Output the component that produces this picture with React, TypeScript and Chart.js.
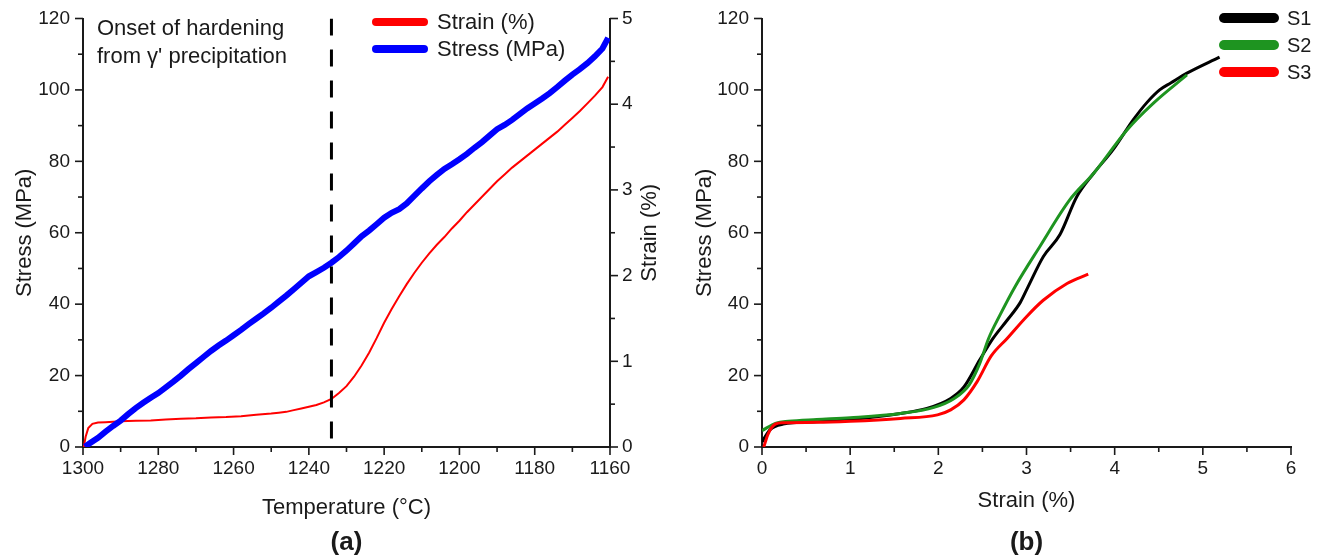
import { useEffect, useRef } from "react";
import { Chart, registerables } from "chart.js";

Chart.register(...registerables);

const FONT = "'Liberation Sans', Arial, Helvetica, sans-serif";
const INK = "#1a1a1a";

// ---- Panel (a): stress and strain during cooling ----
const stressTemps = [
  1299.5, 1298, 1296, 1294, 1292, 1290, 1288, 1286, 1284, 1282, 1280, 1278, 1276, 1274, 1272,
  1270, 1268, 1266, 1264, 1262, 1260, 1258, 1256, 1254, 1252, 1250, 1248, 1246, 1244, 1242,
  1240, 1238, 1236, 1234, 1232, 1230, 1228, 1226, 1224, 1222, 1220, 1218, 1216, 1214, 1212,
  1210, 1208, 1206, 1204, 1202, 1200, 1198, 1196, 1194, 1192, 1190, 1188, 1186, 1184, 1182,
  1180, 1178, 1176, 1174, 1172, 1170, 1168, 1166, 1164, 1162, 1160.5,
];
const stressValues = [
  0.1, 1.2, 2.6, 4.3, 5.9, 7.4, 9.2, 10.9, 12.4, 13.8, 15.1, 16.7, 18.3, 20.0, 21.8,
  23.5, 25.2, 26.9, 28.4, 29.8, 31.3, 32.8, 34.4, 35.9, 37.4, 39.0, 40.7, 42.4, 44.2, 46.0,
  47.8, 49.0, 50.2, 51.6, 53.2, 55.0, 57.0, 59.0, 60.6, 62.4, 64.2, 65.6, 66.6, 68.2, 70.3,
  72.4, 74.4, 76.2, 77.9, 79.2, 80.6, 82.1, 83.8, 85.4, 87.2, 89.0, 90.2, 91.6, 93.2, 94.8,
  96.2, 97.6, 99.1, 100.8, 102.6, 104.3, 105.8, 107.5, 109.4, 111.6, 114.6,
];
const strainTemps = [
  1299.8, 1299.3, 1298.6, 1297.5, 1296, 1294, 1292, 1290, 1286, 1282, 1278, 1274, 1270, 1266,
  1262, 1258, 1254, 1250, 1248, 1246, 1244, 1242, 1240, 1238, 1236, 1234, 1232, 1230, 1228,
  1226, 1224, 1222, 1220, 1218, 1216, 1214, 1212, 1210, 1208, 1206, 1204, 1202, 1200, 1198,
  1196, 1194, 1192, 1190, 1188, 1186, 1184, 1182, 1180, 1178, 1176, 1174, 1172, 1170, 1168,
  1166, 1164, 1162, 1160.5,
];
const strainValues = [
  0.0, 0.12, 0.22, 0.27, 0.285, 0.29, 0.295, 0.3, 0.305, 0.31, 0.32, 0.33, 0.335, 0.345,
  0.35, 0.36, 0.375, 0.39, 0.4, 0.41, 0.43, 0.45, 0.47, 0.49, 0.52, 0.56, 0.63, 0.71, 0.82,
  0.95, 1.1, 1.27, 1.45, 1.61, 1.76, 1.9, 2.03, 2.15, 2.26, 2.36, 2.45, 2.55, 2.64, 2.74,
  2.83, 2.92, 3.01, 3.1, 3.18, 3.26, 3.33, 3.4, 3.47, 3.54, 3.61, 3.68, 3.76, 3.84, 3.92,
  4.01, 4.1, 4.2, 4.32,
];
const onsetTemperature = 1234;
const tempRange = [1160, 1300];
const stressRange = [0, 120];
const strainRange = [0, 5];

// ---- Panel (b): stress-strain curves of three samples ----
const sampleLabels = ["S1", "S2", "S3"];
const sampleColors = ["#000000", "#1e9420", "#ff0000"];
const s1Strain = [0, 0.09, 0.24, 0.62, 1.0, 1.57, 1.87, 2.14, 2.29, 2.47, 2.62, 2.78, 2.93, 3.02, 3.19, 3.38, 3.57, 3.76, 3.98, 4.21, 4.36, 4.51, 4.64, 4.82, 5.19];
const s1Stress = [1.4, 4.8, 6.4, 7.1, 7.7, 9.4, 10.8, 13.6, 16.8, 24.4, 30.4, 35.5, 40.5, 45.0, 53.3, 59.5, 70.1, 76.6, 83.2, 91.6, 96.3, 100.0, 102.0, 104.7, 109.2];
const s2Strain = [0, 0.16, 0.3, 0.62, 1.0, 1.57, 1.95, 2.18, 2.35, 2.47, 2.57, 2.7, 2.87, 3.15, 3.49, 3.76, 4.14, 4.44, 4.82];
const s2Stress = [4.6, 6.7, 7.2, 7.7, 8.2, 9.4, 11.1, 13.6, 17.4, 23.4, 30.4, 37.0, 44.9, 56.1, 69.2, 76.6, 88.8, 96.3, 104.2];
const s3Strain = [0.02, 0.07, 0.15, 0.24, 0.62, 1.0, 1.57, 1.99, 2.14, 2.29, 2.44, 2.6, 2.78, 3.0, 3.19, 3.46, 3.7];
const s3Stress = [0, 3.7, 6.4, 6.8, 6.9, 7.2, 8.0, 9.0, 10.4, 13.2, 18.3, 25.5, 30.4, 36.5, 41.1, 45.8, 48.4];
const strainAxisRange = [0, 6];

const pairs = (xs: number[], ys: number[]) => xs.map((x, i) => ({ x, y: ys[i] }));

// Outward major ticks at labelled values, shorter minor ticks halfway between.
const outwardTicks = {
  id: "outwardTicks",
  afterDraw(chart: any) {
    const { ctx, chartArea: a } = chart;
    ctx.save();
    ctx.strokeStyle = INK;
    ctx.lineWidth = 1.6;
    for (const scale of Object.values(chart.scales) as any[]) {
      const vals: number[] = scale.ticks.map((t: any) => t.value);
      const marks: [number, number][] = [];
      vals.forEach((v, i) => {
        marks.push([v, 8]);
        if (i < vals.length - 1) marks.push([(v + vals[i + 1]) / 2, 5]);
      });
      for (const [v, len] of marks) {
        const p = scale.getPixelForValue(v);
        ctx.beginPath();
        if (scale.isHorizontal()) {
          ctx.moveTo(p, a.bottom);
          ctx.lineTo(p, a.bottom + len);
        } else if (scale.position === "left") {
          ctx.moveTo(a.left, p);
          ctx.lineTo(a.left - len, p);
        } else {
          ctx.moveTo(a.right, p);
          ctx.lineTo(a.right + len, p);
        }
        ctx.stroke();
      }
    }
    ctx.restore();
  },
};

function rotatedText(ctx: CanvasRenderingContext2D, text: string, x: number, y: number) {
  ctx.save();
  ctx.translate(x, y);
  ctx.rotate(-Math.PI / 2);
  ctx.fillText(text, 0, 0);
  ctx.restore();
}

function legendRow(ctx: CanvasRenderingContext2D, color: string, label: string, x0: number, x1: number, y: number, width: number, textX: number) {
  ctx.strokeStyle = color;
  ctx.lineWidth = width;
  ctx.lineCap = "round";
  ctx.beginPath();
  ctx.moveTo(x0, y);
  ctx.lineTo(x1, y);
  ctx.stroke();
  ctx.fillText(label, textX, y + 1);
}

const panelAText = {
  id: "panelAText",
  afterDraw(chart: any) {
    const { ctx, chartArea: a } = chart;
    const midY = (a.top + a.bottom) / 2;
    const midX = (a.left + a.right) / 2;
    ctx.save();
    ctx.fillStyle = INK;
    ctx.font = `22px ${FONT}`;
    ctx.textAlign = "left";
    ctx.textBaseline = "alphabetic";
    ctx.fillText("Onset of hardening", a.left + 14, a.top + 16);
    ctx.fillText("from \u03b3' precipitation", a.left + 14, a.top + 44);

    ctx.textBaseline = "middle";
    legendRow(ctx, "#ff0000", "Strain (%)", a.right - 234, a.right - 186, a.top + 3.5, 8, a.right - 173);
    legendRow(ctx, "#0000ff", "Stress (MPa)", a.right - 234, a.right - 186, a.top + 30.5, 8, a.right - 173);

    ctx.textAlign = "center";
    ctx.fillText("Temperature (\u00b0C)", midX, a.bottom + 61);
    rotatedText(ctx, "Stress (MPa)", a.left - 58, midY);
    rotatedText(ctx, "Strain (%)", a.right + 40, midY);
    ctx.font = `bold 26px ${FONT}`;
    ctx.fillText("(a)", midX, a.bottom + 96);
    ctx.restore();
  },
};

const panelBText = {
  id: "panelBText",
  afterDraw(chart: any) {
    const { ctx, chartArea: a } = chart;
    const midY = (a.top + a.bottom) / 2;
    const midX = (a.left + a.right) / 2;
    ctx.save();
    ctx.fillStyle = INK;
    ctx.font = `20px ${FONT}`;
    ctx.textAlign = "left";
    ctx.textBaseline = "middle";
    sampleLabels.forEach((label, i) => {
      legendRow(ctx, sampleColors[i], label, a.right - 67, a.right - 17, a.top - 0.5 + i * 27, 10, a.right - 4);
    });
    ctx.font = `22px ${FONT}`;
    ctx.textAlign = "center";
    ctx.fillText("Strain (%)", midX, a.bottom + 54);
    rotatedText(ctx, "Stress (MPa)", a.left - 57, midY);
    ctx.font = `bold 26px ${FONT}`;
    ctx.fillText("(b)", midX, a.bottom + 96);
    ctx.restore();
  },
};

const tickFont = { family: FONT, size: 19 };
const plainNumber = { useGrouping: false };
const axisBorder = { display: true, width: 2, color: INK };
const noGrid = { display: false, drawTicks: false, tickLength: 0 };

// Fixed axis box sizes; label overhang is already covered by the layout padding.
const fixWidth = (w: number) => (s: any) => {
  s.width = w;
  s.paddingTop = 0;
  s.paddingBottom = 0;
};
const fixHeight = (h: number) => (s: any) => {
  s.height = h;
  s.paddingLeft = 0;
  s.paddingRight = 0;
};

function panelAConfig(): any {
  return {
    type: "line",
    data: {
      datasets: [
        {
          label: "onset",
          data: [
            { x: onsetTemperature, y: stressRange[1] },
            { x: onsetTemperature, y: stressRange[0] },
          ],
          borderColor: "#000000",
          borderWidth: 3,
          borderDash: [17, 14],
          pointRadius: 0,
          yAxisID: "y",
        },
        {
          label: "Stress (MPa)",
          data: pairs(stressTemps, stressValues),
          borderColor: "#0000ff",
          borderWidth: 6,
          pointRadius: 0,
          yAxisID: "y",
        },
        {
          label: "Strain (%)",
          data: pairs(strainTemps, strainValues),
          borderColor: "#ff0000",
          borderWidth: 2,
          pointRadius: 0,
          yAxisID: "y1",
        },
      ],
    },
    options: {
      animation: false,
      responsive: false,
      devicePixelRatio: 1,
      events: [],
      layout: { padding: { top: 18.5, left: 0, right: 0, bottom: 0 } },
      plugins: { legend: { display: false }, tooltip: { enabled: false } },
      scales: {
        x: {
          type: "linear",
          position: "bottom",
          min: tempRange[0],
          max: tempRange[1],
          reverse: true,
          ticks: { stepSize: 20, padding: 10, color: INK, font: tickFont, format: plainNumber },
          grid: noGrid,
          border: axisBorder,
          afterFit: fixHeight(111),
        },
        y: {
          type: "linear",
          position: "left",
          min: stressRange[0],
          max: stressRange[1],
          ticks: { stepSize: 20, padding: 13, color: INK, font: tickFont, format: plainNumber },
          grid: noGrid,
          border: axisBorder,
          afterFit: fixWidth(83),
        },
        y1: {
          type: "linear",
          position: "right",
          min: strainRange[0],
          max: strainRange[1],
          ticks: { stepSize: 1, padding: 12, color: INK, font: tickFont, format: plainNumber },
          grid: noGrid,
          border: axisBorder,
          afterFit: fixWidth(50),
        },
      },
    },
    plugins: [outwardTicks, panelAText],
  };
}

function panelBConfig(): any {
  const series = [pairs(s1Strain, s1Stress), pairs(s2Strain, s2Stress), pairs(s3Strain, s3Stress)];
  return {
    type: "line",
    data: {
      datasets: series.map((data, i) => ({
        label: sampleLabels[i],
        data,
        borderColor: sampleColors[i],
        borderWidth: 3,
        pointRadius: 0,
        cubicInterpolationMode: "monotone",
        order: series.length - i,
      })),
    },
    options: {
      animation: false,
      responsive: false,
      devicePixelRatio: 1,
      events: [],
      layout: { padding: { top: 18.5, left: 0, right: 36, bottom: 0 } },
      plugins: { legend: { display: false }, tooltip: { enabled: false } },
      scales: {
        x: {
          type: "linear",
          position: "bottom",
          min: strainAxisRange[0],
          max: strainAxisRange[1],
          ticks: { stepSize: 1, padding: 10, color: INK, font: tickFont, format: plainNumber },
          grid: noGrid,
          border: axisBorder,
          afterFit: fixHeight(111),
        },
        y: {
          type: "linear",
          position: "left",
          min: stressRange[0],
          max: stressRange[1],
          ticks: { stepSize: 20, padding: 13, color: INK, font: tickFont, format: plainNumber },
          grid: noGrid,
          border: axisBorder,
          afterFit: fixWidth(102),
        },
      },
    },
    plugins: [outwardTicks, panelBText],
  };
}

export default function App() {
  const leftRef = useRef<HTMLCanvasElement>(null);
  const rightRef = useRef<HTMLCanvasElement>(null);

  useEffect(() => {
    Chart.defaults.font.family = FONT;
    const a = new Chart(leftRef.current as HTMLCanvasElement, panelAConfig());
    const b = new Chart(rightRef.current as HTMLCanvasElement, panelBConfig());
    return () => {
      a.destroy();
      b.destroy();
    };
  }, []);

  return (
    <div style={{ position: "absolute", left: 0, top: 0, width: 1327, height: 558, background: "#ffffff", overflow: "hidden" }}>
      <canvas ref={leftRef} width={660} height={558} style={{ position: "absolute", left: 0, top: 0, width: 660, height: 558 }} />
      <canvas ref={rightRef} width={667} height={558} style={{ position: "absolute", left: 660, top: 0, width: 667, height: 558 }} />
    </div>
  );
}
